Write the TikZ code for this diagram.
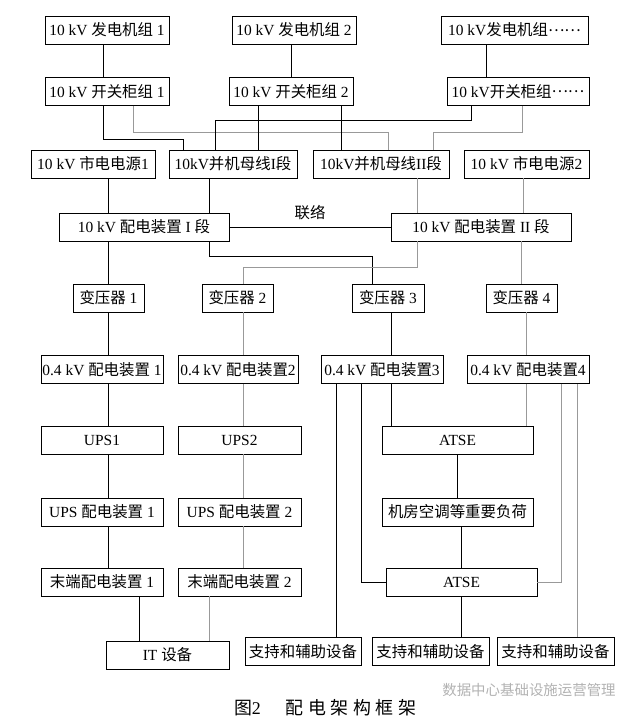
\documentclass[tikz,border=0pt]{standalone}
\usepackage{fontspec}
\setmainfont{Liberation Serif}
\newfontfamily\cjk{Noto Sans CJK SC}
\newcommand{\zh}[1]{{\cjk #1}}
\newcommand{\etcdots}{\raisebox{0.3em}{\zh{……}}}
\usetikzlibrary{positioning, calc}

\begin{document}
\begin{tikzpicture}[
        x=1bp, y=-1bp,
        box/.style={draw, line width=0.8bp, minimum height=28bp, inner sep=0pt, font=\fontsize{15.5}{18}\selectfont},
        wire/.style={draw=black, line width=1bp},
        wiregray/.style={draw=black!40, line width=1bp}
    ]
        \useasboundingbox (0,0) rectangle (639,721);

        % Generators
        \node[box, minimum width=124bp] (gen1) at (107, 30) {10 kV \zh{发电机组} 1};
        \node[box, minimum width=124bp] (gen2) at (294, 30) {10 kV \zh{发电机组} 2};
        \node[box, minimum width=147bp] (gen3) at (514.5, 30) {10 kV\zh{发电机组}\etcdots};

        % Switchgear
        \node[box, minimum width=124bp] (sw1) at (107, 91.5) {10 kV \zh{开关柜组} 1};
        \node[box, minimum width=124bp] (sw2) at (291, 91.5) {10 kV \zh{开关柜组} 2};
        \node[box, minimum width=142bp] (sw3) at (518, 91.5) {10 kV\zh{开关柜组}\etcdots};

        % Mains and paralleling buses
        \node[box, minimum width=124bp] (city1) at (93, 164) {10 kV \zh{市电电源}1};
        \node[box, minimum width=128bp] (busI) at (233, 164) {10kV\zh{并机母线}I\zh{段}};
        \node[box, minimum width=136bp] (busII) at (381, 164) {10kV\zh{并机母线}II\zh{段}};
        \node[box, minimum width=125bp] (city2) at (526.5, 164) {10 kV \zh{市电电源}2};

        % 10 kV distribution
        \node[box, minimum width=170bp] (distI) at (144, 227) {10 kV \zh{配电装置} I \zh{段}};
        \node[box, minimum width=180bp] (distII) at (481, 227) {10 kV \zh{配电装置} II \zh{段}};

        % Transformers
        \node[box, minimum width=71bp] (tr1) at (108.5, 298) {\zh{变压器} 1};
        \node[box, minimum width=71bp] (tr2) at (237.5, 298) {\zh{变压器} 2};
        \node[box, minimum width=72bp] (tr3) at (388, 298) {\zh{变压器} 3};
        \node[box, minimum width=71bp] (tr4) at (521.5, 298) {\zh{变压器} 4};

        % 0.4 kV distribution
        \node[box, minimum width=122bp] (lv1) at (102, 369.5) {0.4 kV \zh{配电装置} 1};
        \node[box, minimum width=120bp] (lv2) at (238, 369.5) {0.4 kV \zh{配电装置}2};
        \node[box, minimum width=122bp] (lv3) at (382, 369.5) {0.4 kV \zh{配电装置}3};
        \node[box, minimum width=122bp] (lv4) at (528, 369.5) {0.4 kV \zh{配电装置}4};

        % UPS and ATSE
        \node[box, minimum width=122bp] (ups1) at (102, 440) {UPS1};
        \node[box, minimum width=123bp] (ups2) at (239.5, 440) {UPS2};
        \node[box, minimum width=151bp] (atse1) at (457.5, 440) {ATSE};

        \node[box, minimum width=122bp] (upsd1) at (102, 512) {UPS \zh{配电装置} 1};
        \node[box, minimum width=123bp] (upsd2) at (239.5, 512) {UPS \zh{配电装置} 2};
        \node[box, minimum width=151bp] (load) at (457.5, 512) {\zh{机房空调等重要负荷}};

        \node[box, minimum width=122bp] (end1) at (102, 582) {\zh{末端配电装置} 1};
        \node[box, minimum width=123bp] (end2) at (239.5, 582) {\zh{末端配电装置} 2};
        \node[box, minimum width=151bp] (atse2) at (461.5, 582) {ATSE};

        % Loads
        \node[box, minimum width=123bp] (it) at (167.5, 655) {IT \zh{设备}};
        \node[box, minimum width=116bp] (sup1) at (303, 651.5) {\zh{支持和辅助设备}};
        \node[box, minimum width=117bp] (sup2) at (430.5, 651.5) {\zh{支持和辅助设备}};
        \node[box, minimum width=117bp] (sup3) at (555.5, 651.5) {\zh{支持和辅助设备}};

        % Generators to switchgear
        \draw[wire] ([xshift=-4bp]gen1.south) -- ([xshift=-4bp]sw1.north);
        \draw[wire] (gen2.south -| sw2) -- (sw2.north);
        \draw[wire] ([xshift=40bp]sw3.north west |- gen3.south) -- ([xshift=40bp]sw3.north west);

        % Switchgear to buses
        \draw[wire] ([xshift=-4bp]sw1.south) -- ++(0,34) -| ([xshift=15bp]busI.north west);
        \draw[wiregray] ([xshift=26bp]sw1.south) -- ++(0,27) -| ([xshift=7bp]busII.north);
        \draw[wire] ([xshift=-33bp]sw2.south) -- ([xshift=-33bp]sw2.south |- busI.north);
        \draw[wire] ([xshift=50bp]sw2.south) -- ([xshift=50bp]sw2.south |- busII.north);
        \draw[wire] ([xshift=-47bp]sw3.south) -- ++(0,15) -| ([xshift=-18bp]busI.north);
        \draw[wiregray] ([xshift=4bp]sw3.south) -- ++(0,27) -| ([xshift=52bp]busII.north);

        % Buses to 10 kV distribution
        \draw[wire] ([xshift=15bp]city1.south) -- ([xshift=15bp]city1.south |- distI.north);
        \draw[wire] ([xshift=-24bp]busI.south) -- ([xshift=-24bp]busI.south |- distI.north);
        \draw[wiregray] ([xshift=36bp]busII.south) -- ([xshift=36bp]busII.south |- distII.north);
        \draw[wiregray] ([xshift=-3.5bp]city2.south) -- ([xshift=-3.5bp]city2.south |- distII.north);
        \draw[wire] (distI) -- (distII) node[midway, above=3bp, font=\fontsize{15.5}{18}\selectfont] {\zh{联络}};

        % 10 kV distribution to transformers
        \draw[wire] (distI.south -| tr1) -- (tr1.north);
        \draw[wire] ([xshift=65bp]distI.south) -- ++(0,15) -| ([xshift=-16bp]tr3.north);
        \draw[wiregray] ([xshift=-64bp]distII.south) -- ++(0,26) -| ([xshift=5.5bp]tr2.north);
        \draw[wiregray] (distII.south -| tr4) -- (tr4.north);

        % Transformers to 0.4 kV
        \draw[wire] (tr1.south) -- (tr1.south |- lv1.north);
        \draw[wiregray] ([xshift=5.5bp]tr2.south) -- ([xshift=5.5bp]tr2.south |- lv2.north);
        \draw[wire] ([xshift=3bp]tr3.south) -- ([xshift=3bp]tr3.south |- lv3.north);
        \draw[wiregray] ([xshift=4.5bp]tr4.south) -- ([xshift=4.5bp]tr4.south |- lv4.north);

        % UPS chains
        \draw[wire] ([xshift=6bp]lv1.south) -- ([xshift=6bp]ups1.north);
        \draw[wire] ([xshift=6bp]ups1.south) -- ([xshift=6bp]upsd1.north);
        \draw[wire] ([xshift=6bp]upsd1.south) -- ([xshift=6bp]end1.north);
        \draw[wire] ([xshift=37bp]end1.south) -- ([xshift=37bp]end1.south |- it.north);
        \draw[wiregray] ([xshift=5bp]lv2.south) -- ([xshift=5bp]lv2.south |- ups2.north);
        \draw[wiregray] ([xshift=5bp]lv2.south |- ups2.south) -- ([xshift=5bp]lv2.south |- upsd2.north);
        \draw[wiregray] ([xshift=5bp]lv2.south |- upsd2.south) -- ([xshift=5bp]lv2.south |- end2.north);
        \draw[wiregray] ([xshift=-30bp]end2.south) -- ([xshift=-30bp]end2.south |- it.north);

        % ATSE feeds
        \draw[wire] ([xshift=9bp]lv3.south) -- ([xshift=9bp]lv3.south |- atse1.north);
        \draw[wire] ([xshift=-21bp]lv3.south) |- (atse2.west);
        \draw[wire] ([xshift=-46bp]lv3.south) -- ([xshift=-46bp]lv3.south |- sup1.north);
        \draw[wiregray] ([xshift=-2bp]lv4.south) -- ([xshift=-2bp]lv4.south |- atse1.north);
        \draw[wiregray] ([xshift=33bp]lv4.south) |- (atse2.east);
        \draw[wiregray] ([xshift=49bp]lv4.south) -- ([xshift=49bp]lv4.south |- sup3.north);
        \draw[wire] (atse1) -- (load);
        \draw[wire] (load.south -| atse2) -- (atse2.north);
        \draw[wire] (atse2.south) -- (atse2.south |- sup2.north);

        % Caption and mark
        \node[text=black!30, font=\fontsize{14.5}{16}\selectfont] (mark) at (529, 690) {\zh{数据中心基础设施运营管理}};
        \node[font=\fontsize{18}{22}\selectfont] (caption) at (325, 708) {\zh{图}2\hspace{25bp}\zh{配\kern4.5bp 电\kern4.5bp 架\kern4.5bp 构\kern4.5bp 框\kern4.5bp 架}};
    \end{tikzpicture}
\end{document}
